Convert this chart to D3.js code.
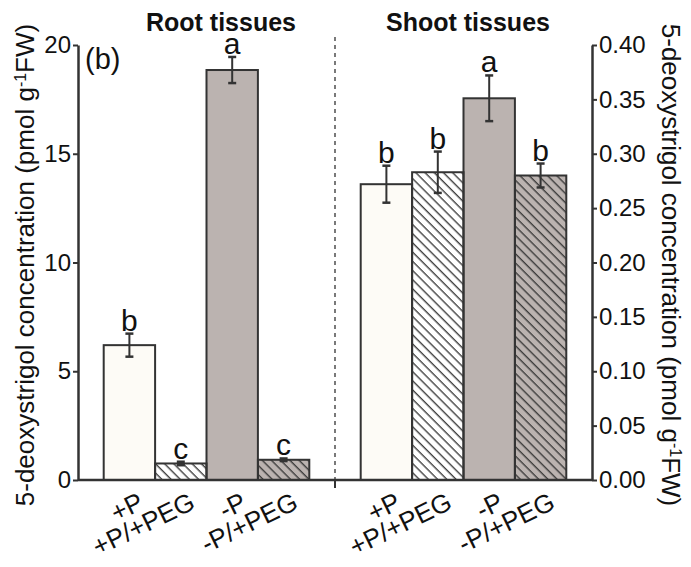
<!DOCTYPE html>
<html>
<head>
<meta charset="utf-8">
<script src="https://cdn.jsdelivr.net/npm/d3@7"></script>
<style>
  body { margin: 0; background: #fff; }
  text { font-family: "Liberation Sans", Arial, sans-serif; fill: #111; }
</style>
</head>
<body>
<div id="chart"></div>
<script>
// treatments (same order in both panels)
const categories = ["+P", "+P/+PEG", "-P", "-P/+PEG"];

// root tissues, pmol g-1 FW
const rootMeans = [6.2, 0.76, 18.85, 0.93];
const rootErr = [0.53, 0.08, 0.6, 0.06];
const rootLetters = ["b", "c", "a", "c"];
const rootTicks = [0, 5, 10, 15, 20];

// shoot tissues, pmol g-1 FW
const shootMeans = [0.272, 0.283, 0.351, 0.280];
const shootErr = [0.017, 0.019, 0.021, 0.011];
const shootLetters = ["b", "b", "a", "b"];
const shootTicks = [0, 0.05, 0.10, 0.15, 0.20, 0.25, 0.30, 0.35, 0.40];

const W = 691, H = 567;
const plotLeft = 78, plotMid = 335, plotRight = 592, plotTop = 45, plotBottom = 480;
const ink = "#333";

const fills = {
    "+P": "#fdfbf6",
    "+P/+PEG": "#ffffff",
    "-P": "#bbb3b0",
    "-P/+PEG": "#bbb3b0"
};
const hatched = { "+P/+PEG": true, "-P/+PEG": true };

const svg = d3.select("#chart")
    .append("svg")
    .attr("width", W)
    .attr("height", H);

// hatch pattern "\\\\"
const defs = svg.append("defs");
defs.append("pattern")
    .attr("id", "hatch")
    .attr("patternUnits", "userSpaceOnUse")
    .attr("width", 6.5)
    .attr("height", 6.5)
    .attr("patternTransform", "rotate(-45)")
    .append("line")
    .attr("x1", 3).attr("y1", 0)
    .attr("x2", 3).attr("y2", 6.5)
    .attr("stroke", ink)
    .attr("stroke-width", 1.3);

const xRoot = d3.scaleBand().domain(categories).range([plotLeft, plotMid]).paddingInner(0).paddingOuter(0.5);
const xShoot = d3.scaleBand().domain(categories).range([plotMid, plotRight]).paddingInner(0).paddingOuter(0.5);
const yRoot = d3.scaleLinear().domain([0, 20]).range([plotBottom, plotTop]);
const yShoot = d3.scaleLinear().domain([0, 0.4]).range([plotBottom, plotTop]);

function drawPanel(x, y, means, errs, letters) {
    const data = categories.map((c, i) => ({ c: c, v: means[i], e: errs[i], l: letters[i] }));
    const g = svg.append("g");

    g.selectAll("rect.base")
        .data(data)
        .enter()
        .append("rect")
        .attr("class", "base")
        .attr("x", d => x(d.c))
        .attr("y", d => y(d.v))
        .attr("width", x.bandwidth())
        .attr("height", d => y(0) - y(d.v))
        .attr("fill", d => fills[d.c]);

    g.selectAll("rect.hatch")
        .data(data.filter(d => hatched[d.c]))
        .enter()
        .append("rect")
        .attr("class", "hatch")
        .attr("x", d => x(d.c))
        .attr("y", d => y(d.v))
        .attr("width", x.bandwidth())
        .attr("height", d => y(0) - y(d.v))
        .attr("fill", "url(#hatch)");

    g.selectAll("rect.outline")
        .data(data)
        .enter()
        .append("rect")
        .attr("class", "outline")
        .attr("x", d => x(d.c))
        .attr("y", d => y(d.v))
        .attr("width", x.bandwidth())
        .attr("height", d => y(0) - y(d.v))
        .attr("fill", "none")
        .attr("stroke", ink)
        .attr("stroke-width", 2);

    // error bars
    const cx = d => x(d.c) + x.bandwidth() / 2;
    g.selectAll("line.err")
        .data(data)
        .enter()
        .append("line")
        .attr("class", "err")
        .attr("x1", cx).attr("x2", cx)
        .attr("y1", d => y(d.v + d.e))
        .attr("y2", d => y(d.v - d.e))
        .attr("stroke", ink)
        .attr("stroke-width", 2);
    [1, -1].forEach((s, k) => {
        g.selectAll("line.cap" + k)
            .data(data)
            .enter()
            .append("line")
            .attr("class", "cap" + k)
            .attr("x1", d => cx(d) - 4).attr("x2", d => cx(d) + 4)
            .attr("y1", d => y(d.v + s * d.e))
            .attr("y2", d => y(d.v + s * d.e))
            .attr("stroke", ink)
            .attr("stroke-width", 2.5);
    });

    // significance letters
    g.selectAll("text.letter")
        .data(data)
        .enter()
        .append("text")
        .attr("class", "letter")
        .attr("x", cx)
        .attr("y", d => y(d.v + d.e) - 3)
        .attr("text-anchor", "middle")
        .style("font-size", "30px")
        .text(d => d.l);

    // category labels
    g.selectAll("text.cat")
        .data(data)
        .enter()
        .append("text")
        .attr("class", "cat")
        .attr("transform", d => `translate(${cx(d) + 16},${plotBottom + 28}) rotate(-26)`)
        .attr("text-anchor", "end")
        .style("font-size", "26px")
        .text(d => d.c);
}

drawPanel(xRoot, yRoot, rootMeans, rootErr, rootLetters);
drawPanel(xShoot, yShoot, shootMeans, shootErr, shootLetters);

// axes
const axL = svg.append("g")
    .attr("transform", `translate(${plotLeft},0)`)
    .call(d3.axisLeft(yRoot).tickValues(rootTicks).tickSize(5).tickSizeOuter(0).tickPadding(2));
const axR = svg.append("g")
    .attr("transform", `translate(${plotRight},0)`)
    .call(d3.axisRight(yShoot).tickValues(shootTicks).tickFormat(d3.format(".2f")).tickSize(5).tickSizeOuter(0).tickPadding(2));
[axL, axR].forEach(a => {
    a.select(".domain").attr("stroke", ink).attr("stroke-width", 2.5);
    a.selectAll(".tick line").attr("stroke", ink).attr("stroke-width", 2);
    a.selectAll(".tick text")
        .style("font-family", "'Liberation Sans', Arial, sans-serif")
        .style("font-size", "24px")
        .attr("fill", "#111");
});

// baseline
svg.append("line")
    .attr("x1", plotLeft).attr("x2", plotRight)
    .attr("y1", yRoot(0)).attr("y2", yRoot(0))
    .attr("stroke", ink).attr("stroke-width", 2.5);

// divider
svg.append("line")
    .attr("x1", plotMid).attr("x2", plotMid)
    .attr("y1", 37).attr("y2", plotBottom)
    .attr("stroke", ink).attr("stroke-width", 1.3)
    .attr("stroke-dasharray", "4,4");
svg.append("line")
    .attr("x1", plotMid).attr("x2", plotMid)
    .attr("y1", plotBottom).attr("y2", plotBottom + 8)
    .attr("stroke", ink).attr("stroke-width", 2);

// panel titles
svg.append("text")
    .attr("x", 221).attr("y", 31)
    .attr("text-anchor", "middle")
    .style("font-size", "25px").style("font-weight", "bold")
    .text("Root tissues");
svg.append("text")
    .attr("x", 468).attr("y", 31)
    .attr("text-anchor", "middle")
    .style("font-size", "25px").style("font-weight", "bold")
    .text("Shoot tissues");

svg.append("text")
    .attr("x", 85).attr("y", 69)
    .style("font-size", "29px")
    .text("(b)");

// y axis labels
function axisLabel(t) {
    t.style("font-size", "26px").attr("text-anchor", "middle");
    t.append("tspan").text("5-deoxystrigol concentration (pmol g");
    t.append("tspan").attr("baseline-shift", "super").style("font-size", "16px").text("-1");
    t.append("tspan").text("FW)");
}
svg.append("text")
    .attr("transform", "translate(34,265) rotate(-90)")
    .call(axisLabel);
svg.append("text")
    .attr("transform", "translate(662,265) rotate(90)")
    .call(axisLabel);
</script>
</body>
</html>
